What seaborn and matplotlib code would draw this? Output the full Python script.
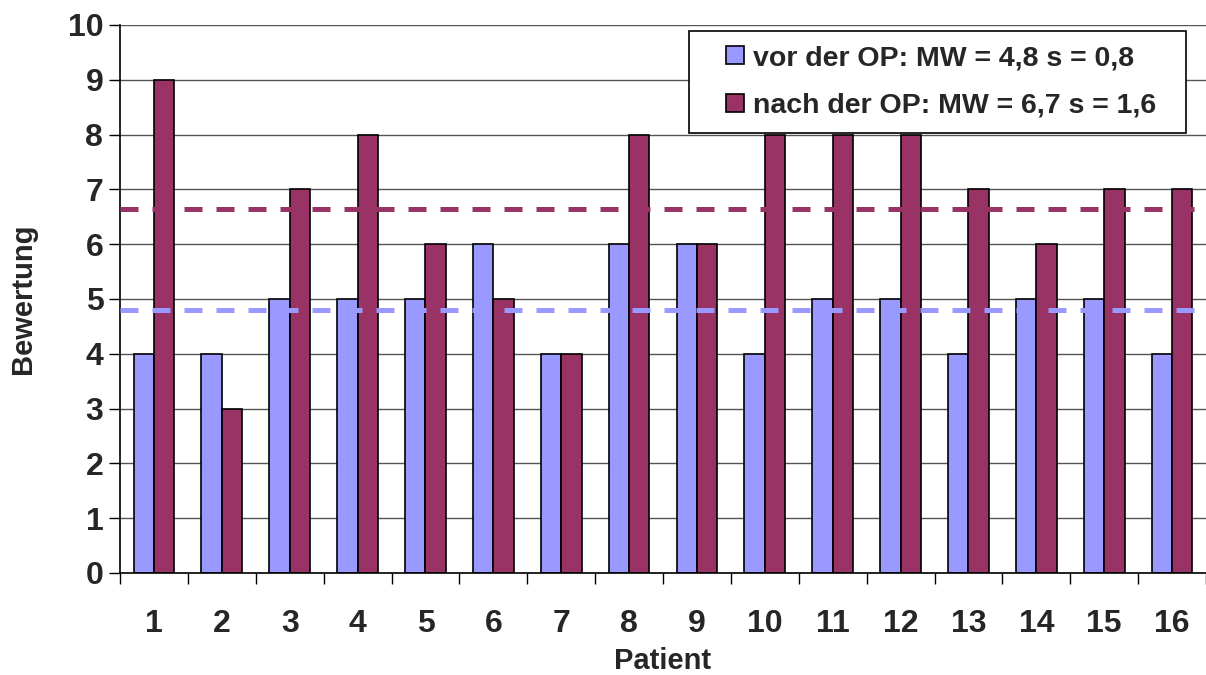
"""Bewertung vor/nach OP je Patient"""
import matplotlib
matplotlib.use('Agg')
import matplotlib.pyplot as plt
from matplotlib.lines import Line2D
import seaborn as sns
import numpy as np
import pandas as pd

# Daten
patienten = [str(i) for i in range(1, 17)]
vor_op = [4, 4, 5, 5, 5, 6, 4, 6, 6, 4, 5, 5, 4, 5, 5, 4]
nach_op = [9, 3, 7, 8, 6, 5, 4, 8, 6, 8, 8, 8, 7, 6, 7, 7]
mw_vor = 4.8
mw_nach = 6.65
labels = ['vor der OP: MW = 4,8 s = 0,8', 'nach der OP: MW = 6,7 s = 1,6']
farben = ['#9999FF', '#993366']

sns.set_theme(style='white')
plt.rcParams['font.family'] = ['Liberation Sans', 'DejaVu Sans']
plt.rcParams['font.weight'] = 'bold'

df = pd.DataFrame({
    'Patient': patienten * 2,
    'Bewertung': vor_op + nach_op,
    'Gruppe': [labels[0]] * len(vor_op) + [labels[1]] * len(nach_op),
})

fig = plt.figure(figsize=(12.06, 6.75), dpi=100)
ax = fig.add_axes([120 / 1206, 102 / 675, 1086 / 1206, 548 / 675])

sns.barplot(data=df, x='Patient', y='Bewertung', hue='Gruppe',
            palette=farben, width=0.6, edgecolor='black', linewidth=1.2,
            saturation=1, ax=ax, zorder=2, legend=False)

# Mittelwert-Linien
ax.axhline(mw_nach, color=farben[1], lw=3.6, ls=(0, (3.6, 2.8)), zorder=3)
ax.axhline(mw_vor, color=farben[0], lw=3.6, ls=(0, (3.6, 2.8)), zorder=3)

ax.set_ylim(0, 10)
ax.set_xlim(-0.5, 15.5)
ax.set_yticks(range(0, 11))
ax.yaxis.grid(True, color='#555555', lw=1)
ax.set_axisbelow(True)

# Ticks zwischen den Kategorien
ax.set_xticks(np.arange(-0.5, 16, 1), minor=True)
ax.tick_params(axis='x', which='major', length=0, pad=26, labelsize=23)
ax.tick_params(axis='x', which='minor', length=8, width=1, color='black',
               direction='out', bottom=True)
ax.tick_params(axis='y', length=8, width=1, color='black', direction='out',
               left=True, labelsize=23, pad=4)
for t in ax.get_xticklabels() + ax.get_yticklabels():
    t.set_fontweight('bold')

for s in ['top', 'right']:
    ax.spines[s].set_visible(False)
for s in ['left', 'bottom']:
    ax.spines[s].set_color('black')
    ax.spines[s].set_linewidth(1.2)

ax.set_xlabel('Patient', fontsize=21, fontweight='bold', labelpad=6)
ax.set_ylabel('Bewertung', fontsize=21, fontweight='bold', labelpad=22)

# Legende mit kleinen Quadraten
handles = [Line2D([], [], ls='none', marker='s', markersize=13,
                  markerfacecolor=c, markeredgecolor='black',
                  markeredgewidth=1.2) for c in farben]
leg = ax.legend(handles, [l + '  ' for l in labels], loc='upper right',
                bbox_to_anchor=(0.982, 0.989), frameon=True, fancybox=False,
                edgecolor='black', framealpha=1, borderaxespad=0,
                prop={'size': 20.5, 'weight': 'bold'}, handlelength=2.2,
                handletextpad=-0.45, labelspacing=0.75, borderpad=0.5)
leg.get_frame().set_linewidth(1.2)

fig.savefig('out.png', dpi=100)
